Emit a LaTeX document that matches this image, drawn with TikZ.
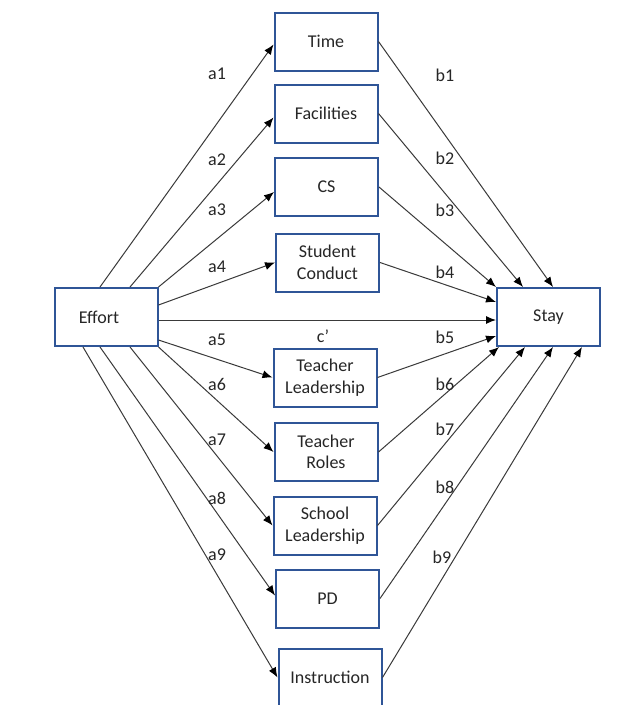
\documentclass[tikz,border=0pt]{standalone}
\usepackage{fontspec}
\setmainfont{Carlito}
\usetikzlibrary{arrows.meta}
\definecolor{boxblue}{HTML}{2F5597}
\definecolor{lnk}{HTML}{3A3A3A}
\definecolor{txt}{HTML}{262626}
\begin{document}
\begin{tikzpicture}[x=1pt,y=-1pt,
  box/.style={draw=boxblue,line width=2pt,minimum width=103pt,minimum height=58pt,inner sep=0pt,align=center,text=txt,font=\fontsize{18}{21.5}\selectfont},
  lab/.style={text=txt,font=\fontsize{18}{21.5}\selectfont,inner sep=0pt},
  conn/.style={draw=lnk,line width=1pt,-{Latex[length=10pt,width=8pt,color=black]}}]
\useasboundingbox (0,0) rectangle (641,705);
\clip (0,0) rectangle (641,705);
\fill[white] (0,0) rectangle (641,705);
\node[box] (eff) at (106,317) {Effort\hspace{14pt}};
\node[box] (stay) at (548.5,317) {Stay};
\node[box] (time) at (326,41.5) {Time};
\node[box] (fac) at (326,113.5) {Facilities};
\node[box] (cs) at (326.5,187) {CS};
\node[box] (sc) at (327.5,262.5) {Student\\Conduct};
\node[box] (tl) at (325,377.5) {Teacher\\Leadership};
\node[box] (tr) at (326,452) {Teacher\\Roles};
\node[box] (sl) at (325,525.5) {School\\Leadership};
\node[box] (pd) at (327.5,598.5) {PD};
\node[box] (ins) at (330,677.5) {Instruction};
% a paths
\draw[conn] ([shift={(-6,0)}]eff.north) -- ([shift={(0,3)}]time.west);
\draw[conn] ([shift={(24,0)}]eff.north) -- ([shift={(0,4)}]fac.west);
\draw[conn] (eff.north east) -- ([shift={(0,5)}]cs.west);
\draw[conn] ([shift={(0,-12)}]eff.east) -- (sc.west);
\draw[conn] ([shift={(0,3)}]eff.east) -- ([shift={(0,3)}]stay.west);
\draw[conn] ([shift={(0,23)}]eff.east) -- (tl.west);
\draw[conn] (eff.south east) -- (tr.west);
\draw[conn] ([shift={(24,0)}]eff.south) -- (sl.west);
\draw[conn] ([shift={(-6,0)}]eff.south) -- ([shift={(0,-3)}]pd.west);
\draw[conn] ([shift={(-23,0)}]eff.south) -- (ins.west);
% b paths
\draw[conn] (time.east) -- ([shift={(4.5,0)}]stay.north);
\draw[conn] (fac.east) -- ([shift={(-25.5,0)}]stay.north);
\draw[conn] (cs.east) -- (stay.north west);
\draw[conn] (sc.east) -- ([shift={(0,-15)}]stay.west);
\draw[conn] (tl.east) -- ([shift={(0,19)}]stay.west);
\draw[conn] (tr.east) -- ([shift={(3,0)}]stay.south west);
\draw[conn] (sl.east) -- ([shift={(-23.5,0)}]stay.south);
\draw[conn] (pd.east) -- ([shift={(4.5,0)}]stay.south);
\draw[conn] (ins.east) -- ([shift={(33.5,0)}]stay.south);
% labels
\node[lab] (la1) at (217,74) {a1};
\node[lab] (la2) at (217,160) {a2};
\node[lab] (la3) at (217,210) {a3};
\node[lab] (la4) at (217,267) {a4};
\node[lab] (lc) at (323,336) {c’};
\node[lab] (la5) at (217,340) {a5};
\node[lab] (la6) at (217,384) {a6};
\node[lab] (la7) at (217,440) {a7};
\node[lab] (la8) at (217,498) {a8};
\node[lab] (la9) at (217,555) {a9};
\node[lab] (lb1) at (445,75) {b1};
\node[lab] (lb2) at (445,158) {b2};
\node[lab] (lb3) at (445,210) {b3};
\node[lab] (lb4) at (445,272) {b4};
\node[lab] (lb5) at (445,337) {b5};
\node[lab] (lb6) at (445,384) {b6};
\node[lab] (lb7) at (445,429) {b7};
\node[lab] (lb8) at (445,487) {b8};
\node[lab] (lb9) at (442,557) {b9};
\end{tikzpicture}
\end{document}
